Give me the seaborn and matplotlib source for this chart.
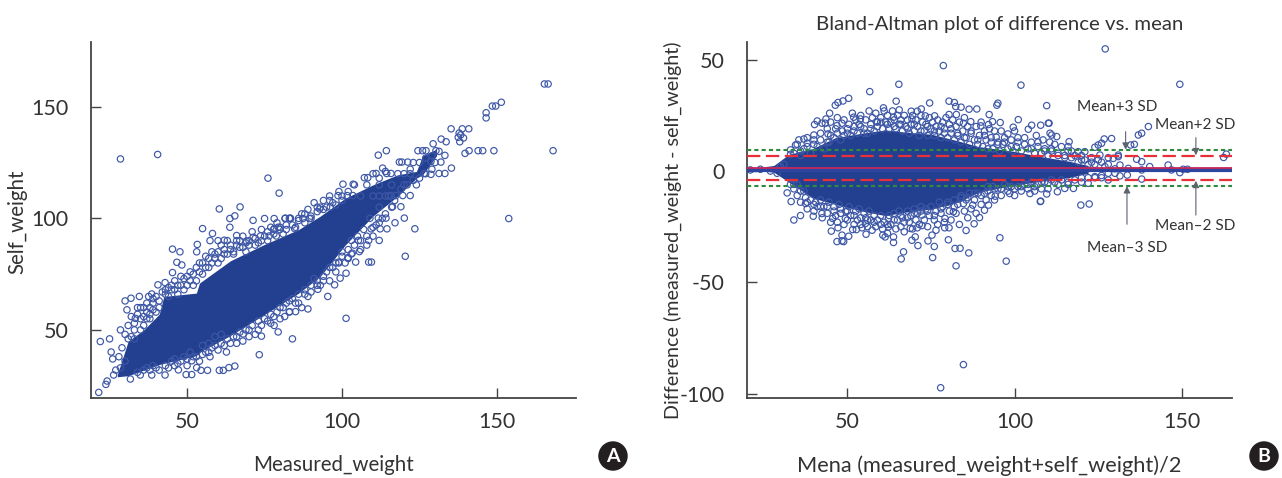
# Self-reported vs measured weight: scatter + Bland-Altman
import matplotlib
matplotlib.use("Agg")
import matplotlib.pyplot as plt
import pandas as pd
import seaborn as sns

# Panel A - outline of the solid cloud
band_x = [27.5, 31, 36, 41, 42.5, 53, 54, 64, 74.5, 86, 93, 101, 110, 118, 124, 126, 130.5]
band_up = [30, 45, 50, 57, 65, 66.5, 71, 81, 88, 95, 101, 109, 115, 119.5, 121, 128, 131]
band_lo = [29, 29.5, 32, 34.5, 35, 38.5, 40, 47.5, 56.5, 66.5, 74, 88, 101, 110, 118, 119.5, 128]

# Panel A - single points, low end
a_low = [(21.5, 22), (22, 44.8), (25, 46), (25.5, 40.1), (26, 37), (28.5, 50), (24.2, 27.1), (23.8, 25.6),
         (26.3, 29.8), (30, 63), (31.9, 64.2), (34.6, 65), (30.6, 59), (33.3, 55.2), (37.6, 65), (38.6, 66.1),
         (40.6, 70.2), (42.9, 71.2), (45.3, 86.2), (47.7, 85), (46.7, 80.3), (45.3, 75.7), (48.3, 79.1),
         (53.3, 88.3), (53.1, 85), (57.4, 90), (58.2, 93.2), (60, 90), (62, 90.2), (66, 92.3), (69.2, 89.8),
         (71.3, 91.5), (73.7, 92.1), (76.5, 92.1), (78.8, 92.1), (47.2, 32.1), (49.7, 30), (51.5, 30),
         (53.1, 33.1), (54.5, 31.9), (56.6, 31.9), (60.4, 31.9), (61.7, 31.9), (63.5, 33.1), (65.4, 33.8),
         (73.3, 38.9), (74, 47.2), (84, 46), (79.4, 49.1), (89, 59.4), (101.3, 55.2), (95.4, 65), (97.6, 70.2),
         (92.2, 68.2), (85, 58.2), (83.1, 58.2), (81.5, 56), (78.1, 52), (68.1, 48.2), (62.7, 40.1), (57.4, 38),
         (51.5, 36.2), (38.6, 29.8), (31.7, 28), (42.9, 29.8), (34.9, 29.8), (99.4, 73.2), (101.3, 75.4)]

# Panel A - points next to the cloud
a_fringe = [(30, 48), (31, 52), (32, 56), (33, 50), (34, 60), (35, 55), (36, 60), (37, 58), (38, 60), (39, 62),
            (40, 58), (41, 63), (36, 52), (38, 55), (29, 42), (28, 38), (30, 36), (28.5, 33), (27, 32),
            (43, 68), (44, 65), (45, 70), (46, 68), (47, 66), (48, 70), (49, 73), (50, 70), (51, 72), (52, 75),
            (53, 78), (54, 76), (55, 80), (56, 78), (57, 82), (58, 80), (59, 84), (60, 85), (61, 82), (62, 86),
            (63, 84), (64, 88), (65, 85), (66, 88), (67, 90), (68, 87), (69, 89), (70, 90), (72, 88), (74, 90),
            (76, 94), (78, 95), (80, 96), (82, 95), (84, 97), (86, 100), (88, 102), (90, 100), (92, 105),
            (94, 104), (96, 108), (98, 106), (100, 110),
            (38, 32), (40, 33), (44, 33), (46, 34), (48, 36), (50, 37), (52, 38), (54, 36), (56, 40), (58, 42),
            (60, 41), (62, 43), (64, 44), (66, 47), (68, 45), (70, 50), (72, 48), (74, 52), (76, 54), (78, 56),
            (80, 60), (82, 62), (84, 64), (86, 62), (88, 66), (90, 70), (92, 72), (94, 74), (96, 78), (98, 80),
            (100, 85), (102, 82), (104, 88), (106, 90), (108, 92), (110, 96), (112, 98), (114, 102), (116, 105)]

a_upper = [(32, 47), (33, 53), (34, 57), (35, 50), (36, 56), (37, 62), (38, 57), (39, 59), (40, 65), (41, 60), (42, 67),
           (39, 64), (37, 55), (35, 60), (33, 46), (31, 46), (44, 69), (43, 66), (45, 68), (46, 72), (47, 70), (48, 74),
           (49, 68), (50, 74), (51, 76), (52, 70), (53, 72), (54, 80), (55, 75), (56, 83), (57, 78), (58, 85), (59, 82),
           (60, 80), (61, 88), (62, 84), (63, 90), (64, 86), (65, 84), (66, 90), (67, 87), (68, 92), (69, 85), (70, 88),
           (71, 94), (72, 91), (73, 89), (74, 95), (75, 92), (76, 90), (77, 96), (78, 93), (79, 98), (80, 95), (81, 93),
           (82, 97), (83, 100), (85, 96), (86, 99), (87, 102), (88, 98), (89, 104), (90, 101), (91, 107), (92, 103),
           (93, 105), (94, 108), (95, 105), (96, 110), (97, 107), (99, 112), (100, 108), (102, 112), (104, 115),
           (106, 110), (108, 115), (110, 120), (112, 118), (114, 121)]

a_lower = [(34, 31), (36, 32), (37, 33), (39, 34), (41, 32), (43, 34), (45, 36), (46, 37), (47, 35), (49, 38), (50, 34),
           (51, 40), (53, 38), (55, 39), (55, 43), (57, 40), (57, 44), (59, 43), (59, 47), (61, 44), (61, 48), (63, 46),
           (65, 47), (66, 44), (67, 49), (69, 50), (70, 47), (71, 52), (73, 54), (73, 50), (75, 55), (77, 53), (77, 57),
           (79, 58), (80, 55), (81, 60), (83, 58), (83, 63), (85, 62), (86, 66), (87, 60), (88, 68), (89, 65), (90, 67),
           (91, 73), (92, 70), (93, 70), (94, 72), (95, 76), (96, 72), (97, 78), (98, 76), (99, 80), (100, 83), (101, 80),
           (102, 86), (103, 84), (105, 92), (106, 86), (107, 95), (108, 88), (109, 100), (110, 92), (111, 97), (112, 105),
           (113, 100), (115, 110), (117, 108), (119, 113), (121, 115), (123, 117), (125, 118), (127, 120), (129, 122),
           (130, 125)]

# Panel A - points above 100 kg
a_high = [(28.5, 126.6), (40.5, 128.6), (76.1, 118), (79.7, 111.3), (60.4, 104.2), (67.1, 105.1), (63.8, 99.9),
          (65.4, 101.1), (55, 95.4), (63.8, 96), (71.3, 99.1), (75, 99.9), (78.1, 99.9), (81.6, 99.9), (83.4, 99.9),
          (87.4, 99.9), (100.3, 115.3), (103.6, 115.3), (98.7, 110.2), (101.7, 110.2), (103.5, 110.2), (96.2, 105.1),
          (92.8, 104.2), (89.5, 99.9), (78.1, 95.4), (79.4, 96), (84.7, 95.4),
          (165.3, 160.2), (166.5, 160.2), (151.4, 152), (148.5, 150.3), (149.6, 150.3), (146.5, 147.3), (146.5, 145),
          (135.2, 140.1), (140.9, 140.1), (138.8, 140.1), (137.8, 138.2), (138.3, 137.4), (137.5, 136.3), (139.2, 136),
          (138, 134.3), (132, 135.5), (133.6, 134.3), (129.4, 133.4), (168.1, 130.3), (149, 130.3), (145.4, 130.3),
          (143.9, 130.3), (141, 130.3), (139.7, 129.1), (114.3, 130.3), (111.7, 128.3), (124.5, 130.3), (126, 130.3),
          (127.1, 130.3), (130.3, 130.3), (131.3, 130), (133.2, 128.2), (128.7, 125.5), (131.9, 125.2), (135.3, 122.5),
          (118.5, 125.2), (119.3, 125.2), (121.2, 125.2), (113.1, 122.5), (111, 120.1), (107.2, 118.2), (108.3, 118.2),
          (114.4, 120.1), (115.8, 120.1), (126.5, 120.1), (128.7, 119.7), (131.3, 120.1), (133.2, 120.1)]

a_rows = [(119.6, 110.2), (122, 110.2), (117.4, 110.2), (115.8, 110.2), (119, 105.2), (116.3, 105.2), (120.1, 100.1),
          (114.2, 100.1), (111.7, 100.1), (81.7, 100.1), (83.3, 100.1), (117.1, 98), (114.5, 95.3), (112.3, 95.3),
          (123.5, 95.3), (153.8, 99.9), (109.4, 95.3), (105.3, 90.1), (103, 90.1), (112, 90.1), (108.6, 90.1),
          (105.6, 85.1), (103.3, 84.4), (101.9, 82.4), (120.4, 83), (108.6, 80.4), (109.5, 80.4), (104.4, 80.4),
          (98.9, 80.4), (110, 110), (112, 110), (114, 110), (118, 120), (120, 120), (122, 120), (112, 115),
          (116, 115), (120, 115), (124, 115), (122, 122), (125, 125), (127, 127), (129, 128), (123, 125)]

# Panel B - outline of the solid cloud
hump_x = [21, 28, 32.5, 39.5, 46.4, 54.4, 61.3, 67.3, 75.3, 83.2, 89.2, 99.2, 108, 116, 122]
hump_up = [1.2, 2.5, 7.5, 10, 15, 17, 18.5, 17.5, 16.5, 13.5, 11, 9, 6.5, 4.5, 2.5]
hump_lo = [0.6, -0.5, -5, -12, -15, -18, -20, -18.5, -17, -14, -9.5, -6.5, -4.5, -3, -1]

# Panel B - points above the cloud
b_top = [(78.7, 47.4), (65.4, 39), (56.7, 35.7), (101.9, 38.6), (50.4, 32.7), (48.7, 31.5), (47.2, 30.8), (46.4, 29.6),
         (44.7, 26), (64.6, 31.4), (60.8, 28.4), (65.5, 27.5), (74.6, 30.6), (80.4, 31.4), (82, 30.8), (82.4, 29),
         (84, 28.7), (86.4, 27.8), (88.7, 27.9), (80.4, 25.4), (82.6, 25.4), (69.1, 26.9), (70.9, 26.9), (72.1, 27.9),
         (92.4, 25.4), (95, 30.5), (94.7, 29.6), (41, 22.5), (40.2, 20.9), (43.6, 23.4), (43.4, 21.5), (42.4, 21.5),
         (44.2, 16.7), (40, 16.2), (46.9, 20.4), (48.4, 21.5), (51.9, 24.2), (53.9, 23.4), (58.7, 22.2), (63.8, 24.2),
         (69.3, 23.4), (73.3, 24.8), (76.1, 24.8), (84.7, 21.5), (86.9, 22.2), (89.9, 20.3), (92.2, 20.9), (93.4, 22.2),
         (95.7, 21.8), (101.1, 23.1), (99.6, 19.7), (105.1, 20.6), (107.8, 20.6), (104.1, 18.8), (98, 16.7), (94.5, 15.2),
         (109.6, 29.4), (35.5, 14), (37, 14.4), (34.5, 11.7), (33, 9.5), (38, 12.5), (127.1, 54.9), (149.4, 39),
         (110.3, 21.5), (111.1, 16.2), (112.6, 15.5), (116.3, 13.2), (129, 14.6), (126.8, 14.4), (126, 12.5), (124, 10.7),
         (121, 8.7), (140, 20), (138, 17), (137, 16.2), (135.8, 12), (134.7, 11.7), (131, 7.2), (163.3, 7.6), (162.5, 6.1),
         (119, 8.7), (125, 11.7), (116, 11), (110.6, 17), (110.1, 21.5), (129.5, 5.7), (125.5, 7.2), (136.5, 5.3), (138, 4.2)]

# Panel B - points below the cloud
b_bottom = [(32, -9.8), (33.2, -13.7), (34, -22), (36, -20), (39.8, -20.3), (37.5, -14.6), (45.2, -27), (47.2, -25.5),
            (46.9, -31.7), (48.4, -31.4), (48.9, -31.7), (48.4, -28.8), (50.4, -29.3), (51.6, -26.3), (52.7, -26.3),
            (54.4, -25.5), (55.6, -28.4), (57.4, -26.6), (60.6, -28.8), (61.3, -29.6), (62.3, -25.1), (63.8, -29.6),
            (63.8, -32.1), (66.8, -36.3), (66.1, -39.5), (67, -27.3), (68.8, -25.8), (69.3, -31.1), (70.3, -29.6),
            (71.1, -33.5), (70.9, -25.5), (72.3, -24.5), (74.1, -31.4), (75.3, -28.8), (76, -33.9), (75.5, -38.9),
            (76.5, -26.6), (79.1, -25.5), (80.4, -25.5), (80.2, -30.9), (82.2, -34.8), (83.7, -34.7), (82.5, -42.6),
            (86.3, -36.8), (85.5, -26.7), (87.9, -23.7), (89.5, -20.9), (91, -17.6), (92.2, -15.3), (95.6, -30),
            (97.5, -40.5), (84.7, -87), (77.9, -97.4), (87.5, -15.3), (84.7, -14.6), (107.7, -13.7), (104.6, -10.1),
            (98.5, -10.1), (94.2, -11.3), (45.6, -21.3), (42.4, -19.1), (49.4, -21.3), (55.4, -23.6), (62.3, -21.3),
            (72.3, -19.8), (79.2, -21.3), (81.7, -18.3), (119.8, -15.3), (122.3, -14.8), (107.8, -13.5), (109.6, -10.3),
            (138, -3.6), (133.7, -1.8), (131.5, -2.2), (128, -4), (122, -5.5), (117.6, -7.8), (115, -7.8), (112.8, -9.3),
            (110, -5.5), (145.9, 2.7), (146.9, 0.5), (149.4, -0.7), (150.4, 0.8), (151.7, 0.8), (140.4, 2), (138, 0.5),
            (134, 1.2), (131.5, 2.7), (131, 6.5)]

# Panel B - points right next to the cloud
b_fringe = [(36, 9), (38, 11), (40, 12), (42, 14), (44, 13), (45, 16), (47, 17), (49, 16), (50, 19), (52, 18), (54, 20),
            (55, 17), (57, 19), (59, 20), (60, 22), (62, 21), (64, 20), (66, 21), (68, 19), (70, 21), (72, 18), (74, 20),
            (76, 18), (78, 20), (79, 17), (81, 19), (83, 17), (85, 15), (87, 17), (89, 14), (91, 16), (93, 13), (95, 12),
            (97, 13), (99, 11), (101, 15), (103, 12), (105, 10), (107, 13), (109, 9), (111, 10), (113, 8), (115, 7),
            (117, 9), (120, 5), (123, 4), (126, 4), (128, 3), (130, 1),
            (34, -6), (36, -9), (38, -14), (40, -15), (42, -16), (44, -16), (46, -18), (48, -19), (50, -18), (52, -20),
            (54, -21), (56, -22), (58, -23), (60, -24), (62, -24), (64, -22), (66, -20), (68, -21), (70, -19), (72, -18),
            (74, -18), (76, -20), (78, -17), (80, -15), (82, -16), (84, -11), (86, -12), (88, -10), (90, -11), (92, -9),
            (94, -8), (96, -8), (98, -7), (100, -8), (102, -7), (104, -6), (106, -7), (108, -5), (112, -5), (116, -5),
            (120, -3), (124, -3), (126, -2), (21, 0.5), (24, 0.8), (27, 0), (29, -1), (30, 2), (31, 3)]

b_upper = [(33, 7.5), (34, 8), (35, 12), (36, 7), (37, 10), (38, 15), (39, 8), (40, 14), (41, 11), (42, 17), (43, 10),
           (44, 19), (44.5, 13), (45, 22), (46, 15), (46.5, 19), (47, 24), (48, 14), (48.5, 18), (49, 23), (50, 17),
           (50.5, 21), (51, 16), (51.5, 26), (52, 20), (52.5, 23), (53, 17), (53.5, 21), (54, 25), (55, 19), (55.5, 23),
           (56, 17), (56.5, 27), (57, 21), (57.5, 24), (58, 18), (58.5, 26), (59, 22), (60, 24), (60.5, 19), (61, 27),
           (61.5, 22), (62, 25), (62.5, 19), (63, 22), (63.5, 27), (64, 23), (64.5, 19), (65, 25), (65.5, 21), (66, 23),
           (66.5, 18), (67, 25), (67.5, 20), (68, 23), (68.5, 17), (69, 21), (69.5, 25), (70, 18), (70.5, 23), (71, 20),
           (71.5, 16), (72, 25), (72.5, 22), (73, 18), (73.5, 21), (74, 16), (74.5, 24), (75, 19), (75.5, 22), (76, 16),
           (76.5, 20), (77, 23), (77.5, 18), (78, 15), (78.5, 22), (79, 19), (79.5, 24), (80, 15), (80.5, 21), (81, 17),
           (81.5, 23), (82, 14), (82.5, 20), (83, 16), (83.5, 22), (84, 13), (84.5, 18), (85, 24), (85.5, 15), (86, 20),
           (86.5, 12), (87, 18), (88, 14), (88.5, 20), (89, 12), (89.5, 16), (90, 22), (90.5, 11), (91, 18), (91.5, 14),
           (92, 10), (92.5, 19), (93, 15), (93.5, 10), (94, 18), (95, 13), (95.5, 9), (96, 18), (96.5, 12), (97, 15),
           (98, 10), (99, 14), (99.5, 9), (100, 18), (100.5, 11), (101, 13), (102, 9), (103, 15), (104, 10), (105, 13),
           (106, 8), (106.5, 16), (107, 11), (108, 8), (108.5, 14), (109, 10), (110, 7), (110.5, 13), (111, 9), (112, 12),
           (113, 7), (114, 11), (115, 6), (116, 9), (117, 6), (118, 7), (119, 4), (120, 7), (121, 5), (122, 3), (123, 6),
           (124, 3), (125, 5), (127, 2), (128, 6)]

b_lower = [(33, -6), (34, -8), (35, -6), (35, -11), (36, -14), (37, -9), (37.5, -12), (38, -17), (39, -13), (40, -18),
           (40.5, -14), (41, -16), (42, -13), (42.5, -21), (43, -16), (44, -19), (44.5, -14), (45, -23), (46, -16),
           (46.5, -20), (47, -23), (47.5, -15), (48, -17), (49, -24), (49.5, -18), (50, -22), (50.5, -16), (51, -20),
           (52, -24), (52.5, -18), (53, -22), (53.5, -17), (54, -24), (55, -19), (55.5, -21), (56, -25), (56.5, -18),
           (57, -22), (58, -20), (58.5, -25), (59, -22), (60, -20), (60.5, -26), (61, -23), (62, -28), (62.5, -20),
           (63, -24), (64, -19), (64.5, -26), (65, -22), (65.5, -18), (66, -25), (66.5, -21), (67, -23), (68, -18),
           (68.5, -23), (69, -20), (69.5, -26), (70, -17), (70.5, -22), (71, -19), (71.5, -24), (72, -16), (73, -22),
           (73.5, -17), (74, -25), (74.5, -20), (75, -16), (76, -22), (76.5, -18), (77, -24), (77.5, -14), (78, -19),
           (78.5, -16), (79, -23), (80, -14), (80.5, -18), (81, -22), (82, -13), (82.5, -19), (83, -15), (83.5, -24),
           (84, -12), (85, -18), (85.5, -13), (86, -21), (86.5, -10), (87, -17), (88, -13), (88.5, -19), (89, -10),
           (90, -15), (91, -10), (91.5, -13), (92, -7), (93, -11), (93.5, -7), (94, -13), (95, -8), (96, -11), (97, -6),
           (98, -9), (99, -7), (100, -11), (101, -7), (102, -9), (103, -6), (104, -8), (105, -5), (106, -9), (107, -6),
           (108, -8), (109, -5), (110, -8), (111, -4), (113, -6), (114, -4), (116, -6), (118, -4), (120, -5), (122, -3),
           (124, -2.5), (126, -3), (128, -1), (130, -1)]

# Panel B - reference lines
mean_diff = 1.2
sd2_up, sd2_lo = 6.9, -4.2
sd3_up, sd3_lo = 9.5, -6.6

# labels on panel B: text, text position, arrow x, arrow start, arrow end
sd_labels = [("Mean+3 SD", 130.6, 28.8, 133.2, 17.7, 9.6),
             ("Mean+2 SD", 153.9, 20.7, 154.2, 15, 7.1),
             ("Mean\u20132 SD", 153.9, -24.8, 154.2, -19.8, -4.4),
             ("Mean\u20133 SD", 133.6, -34.7, 133.6, -23.9, -6.8)]

dot_blue = "#3d57a6"
fill_blue = "#234090"
text_col = "#333333"

sns.set_theme(style="ticks")
plt.rcParams["font.family"] = ["Lato", "DejaVu Sans"]

W, H = 1282, 478
fig = plt.figure(figsize=(W / 100, H / 100), dpi=100)
ax1 = fig.add_axes([91 / W, 1 - 398 / H, 485 / W, 356 / H])
ax2 = fig.add_axes([747 / W, 1 - 398 / H, 485 / W, 356 / H])


def dots(ax, pts):
    df = pd.DataFrame(pts, columns=["x", "y"])
    sns.scatterplot(data=df, x="x", y="y", ax=ax, marker="o", s=21, facecolor="none",
                    edgecolor=dot_blue, linewidth=0.85, zorder=3)


# Panel A
ax1.fill_between(band_x, band_lo, band_up, color=fill_blue, lw=0, zorder=2)
for pts in [a_low, a_fringe, a_upper, a_lower, a_high, a_rows]:
    dots(ax1, pts)
ax1.set_xlim(19, 175.5)
ax1.set_ylim(19.5, 179)
ax1.set_xlabel("Measured_weight", fontsize=14.8, color=text_col)
ax1.set_ylabel("Self_weight", fontsize=14.8, color=text_col)
ax1.xaxis.set_label_coords(0.5, -0.16)
ax1.yaxis.set_label_coords(-0.132, 0.494)

# Panel B
ax2.fill_between(hump_x, hump_lo, hump_up, color=fill_blue, lw=0, zorder=2)
for pts in [b_top, b_bottom, b_fringe, b_upper, b_lower]:
    dots(ax2, pts)
ax2.axhline(mean_diff - 0.6, color="#2b45a0", lw=3, zorder=4)
ax2.axhline(mean_diff, color="#c8285a", lw=1.3, zorder=5)
for level in [sd2_up, sd2_lo]:
    ax2.axhline(level, color="#e8303a", lw=1.6, dashes=(6, 2.5), zorder=5)
for level in [sd3_up, sd3_lo]:
    ax2.axhline(level, color="#2e8b3d", lw=1.5, dashes=(2, 1.5), zorder=5)
for label, tx, ty, ax0, ay0, ay1 in sd_labels:
    ax2.text(tx, ty, label, ha="center", va="center", fontsize=11.1, color=text_col, zorder=7)
    ax2.annotate("", xy=(ax0, ay1), xytext=(ax0, ay0), zorder=6,
                 arrowprops=dict(arrowstyle="-|>", color="#5c6470", lw=0.8, mutation_scale=10, shrinkA=0, shrinkB=0))
ax2.set_xlim(20, 165)
ax2.set_ylim(-102, 58)
ax2.set_xlabel("Mena (measured_weight+self_weight)/2", fontsize=15.7, color=text_col)
ax2.set_ylabel("Difference (measured_weight - self_weight)", fontsize=14.2, color=text_col)
ax2.xaxis.set_label_coords(0.5, -0.16)
ax2.yaxis.set_label_coords(-0.135, 0.472)
ax2.set_title("Bland-Altman plot of difference vs. mean", fontsize=14.7, color=text_col, pad=9, x=0.521)

ax1.set_xticks([50, 100, 150])
ax1.set_yticks([50, 100, 150])
ax2.set_xticks([50, 100, 150])
ax2.set_yticks([50, 0, -50, -100])
ax2.set_yticklabels(["50", "0", "-50", "-100"])
for ax in [ax1, ax2]:
    sns.despine(ax=ax)
    ax.tick_params(direction="in", length=7, width=1, color="#444444", labelsize=15.5, labelcolor=text_col, pad=16)
    ax.tick_params(axis="x", pad=10)
    for side in ["left", "bottom"]:
        ax.spines[side].set_color("#444444")
        ax.spines[side].set_linewidth(1.3)

# panel letters
for letter, px in [("A", 613), ("B", 1264)]:
    fig.text(px / W, 1 - 456 / H, letter, ha="center", va="center", fontsize=14, fontweight="bold", color="white",
             bbox=dict(boxstyle="circle,pad=0.32", fc="#231f20", ec="none"))

fig.savefig("out.png", dpi=100)
